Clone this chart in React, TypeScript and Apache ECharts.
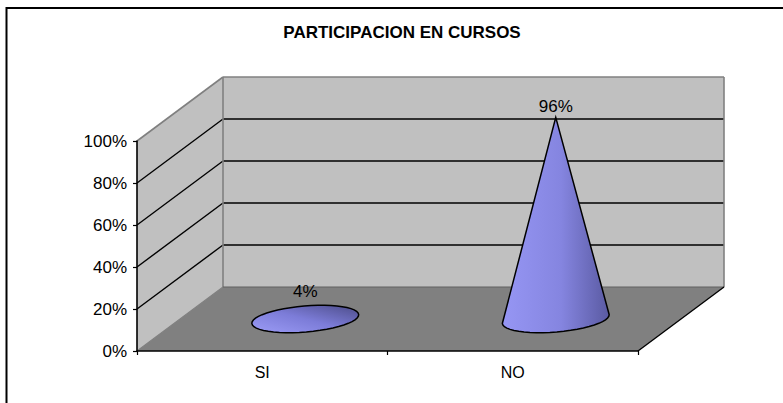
import React, { useEffect, useRef } from "react";
import * as echarts from "echarts";

const categories = ["SI", "NO"];
const seriesValues = [4, 96];
const valueTicks = [0, 20, 40, 60, 80, 100];
const titleText = "PARTICIPACION EN CURSOS";

const DEPTH_X = 86;
const DEPTH_Y = -64;
const FONT = '"Liberation Sans", Arial, sans-serif';

function wallsItem(_params: any, api: any) {
  const [x0, y0] = api.coord([0, 0]);
  const [x1, y100] = api.coord([1, 100]);
  const left = x0 - (x1 - x0) / 2;
  const right = x1 + (x1 - x0) / 2;
  const bx = left + DEPTH_X;
  const br = right + DEPTH_X;
  const by0 = y0 + DEPTH_Y;
  const by100 = y100 + DEPTH_Y;
  const poly = (points: number[][], style: any) => ({ type: "polygon", shape: { points }, style });
  const line = (a: number[], b: number[], stroke: string, lineWidth = 1) => ({
    type: "line",
    shape: { x1: a[0], y1: a[1], x2: b[0], y2: b[1] },
    style: { stroke, lineWidth },
  });
  const children: any[] = [
    poly([[left, y0], [bx, by0], [bx, by100], [left, y100]], { fill: "#c0c0c0" }),
    poly([[bx, by0], [br, by0], [br, by100], [bx, by100]], { fill: "#c0c0c0" }),
    poly([[left, y0], [right, y0], [br, by0], [bx, by0]], { fill: "#808080" }),
  ];
  valueTicks.slice(1, -1).forEach((t) => {
    const y = api.coord([0, t])[1];
    children.push(line([left, y], [bx, y + DEPTH_Y], "#000", 1.4));
    children.push(line([bx, y + DEPTH_Y], [br, y + DEPTH_Y], "#000", 1.4));
  });
  children.push(line([left, y100], [bx, by100], "#808080", 1.6));
  children.push(line([bx, by100], [br, by100], "#808080", 1.6));
  children.push(line([br, by100], [br, by0], "#808080", 1.6));
  children.push(line([bx, by100], [bx, by0], "#808080", 1.6));
  children.push(line([left, y0], [bx, by0], "#808080", 1.2));
  children.push(line([bx, by0], [br, by0], "#606060", 1.2));
  children.push(line([right, y0], [br, by0], "#000", 1.4));
  return { type: "group", children };
}

function coneItem(params: any, api: any) {
  const idx = api.value(0);
  const val = api.value(1);
  const [fx, fy] = api.coord([idx, 0]);
  const topY = api.coord([idx, val])[1];
  const band = api.size([1, 0])[0];
  const cx = fx + DEPTH_X / 2;
  const cy = fy + DEPTH_Y / 2;
  const ax = cx;
  const ay = topY + DEPTH_Y / 2;
  const rx = band * 0.214;
  const ry = 13;
  const tilt = (-4.8 * Math.PI) / 180;
  const pt = (t: number) => {
    const ex = rx * Math.cos(t);
    const ey = ry * Math.sin(t);
    return [cx + ex * Math.cos(tilt) - ey * Math.sin(tilt), cy + ex * Math.sin(tilt) + ey * Math.cos(tilt)];
  };
  const flat = cy - ay < ry;
  const pts: number[][] = [];
  const steps = 48;
  if (flat) {
    for (let i = 0; i < steps; i++) pts.push(pt((i / steps) * Math.PI * 2));
  } else {
    for (let i = 0; i <= steps / 2; i++) pts.push(pt((i / (steps / 2)) * Math.PI));
    pts.push([ax, ay]);
  }
  const fill = flat
    ? new echarts.graphic.LinearGradient(0, 1, 1, 0, [
        { offset: 0, color: "#9c9cf6" },
        { offset: 0.5, color: "#7c7cd8" },
        { offset: 1, color: "#4c4c88" },
      ])
    : new echarts.graphic.LinearGradient(0, 0, 1, 0, [
        { offset: 0, color: "#9696f4" },
        { offset: 0.55, color: "#8585e0" },
        { offset: 1, color: "#5a5aa2" },
      ]);
  return {
    type: "group",
    children: [
      { type: "polygon", shape: { points: pts }, style: { fill, stroke: "#000", lineWidth: 1.5 } },
      {
        type: "text",
        style: {
          x: ax,
          y: ay - (flat ? 19 : 11),
          text: `${val}%`,
          fill: "#000",
          font: `17px ${FONT}`,
          align: "center",
          verticalAlign: "middle",
        },
      },
    ],
  };
}

export default function App() {
  const ref = useRef<HTMLDivElement>(null);
  useEffect(() => {
    document.body.style.margin = "0";
    const chart = echarts.init(ref.current!, undefined, { renderer: "svg" });
    chart.setOption({
      animation: false,
      backgroundColor: "#ffffff",
      title: {
        text: titleText,
        left: 397,
        top: 19,
        textAlign: "center",
        textStyle: { fontFamily: FONT, fontSize: 17, fontWeight: "bold", color: "#000" },
      },
      grid: { left: 137, right: 145, top: 141, bottom: 52 },
      xAxis: {
        type: "category",
        data: categories,
        axisLine: { show: true, lineStyle: { color: "#000", width: 1.6 } },
        axisTick: { show: true, alignWithLabel: false, length: 4, lineStyle: { color: "#000", width: 1.2 } },
        axisLabel: { color: "#000", fontFamily: FONT, fontSize: 16, margin: 13 },
        z: 10,
      },
      yAxis: {
        type: "value",
        min: 0,
        max: 100,
        interval: 20,
        axisLine: { show: true, lineStyle: { color: "#000", width: 1.6 } },
        axisTick: { show: true, length: 4, lineStyle: { color: "#000", width: 1.2 } },
        axisLabel: { color: "#000", fontFamily: FONT, fontSize: 17, margin: 10, formatter: "{value}%" },
        splitLine: { show: false },
        z: 10,
      },
      graphic: [
        {
          type: "polyline",
          silent: true,
          shape: { points: [[6.5, 403], [6.5, 8], [783, 8]] },
          style: { stroke: "#000", lineWidth: 2, fill: "none" },
        },
      ],
      series: [
        {
          type: "custom",
          coordinateSystem: "cartesian2d",
          renderItem: wallsItem,
          data: [[0, 0]],
          silent: true,
          z: 1,
          clip: false,
        },
        {
          type: "custom",
          coordinateSystem: "cartesian2d",
          renderItem: coneItem,
          data: seriesValues.map((v, i) => [i, v]),
          encode: { x: 0, y: 1 },
          silent: true,
          z: 2,
          clip: false,
        },
      ],
    });
    return () => chart.dispose();
  }, []);
  return <div ref={ref} style={{ width: 783, height: 403 }} />;
}
